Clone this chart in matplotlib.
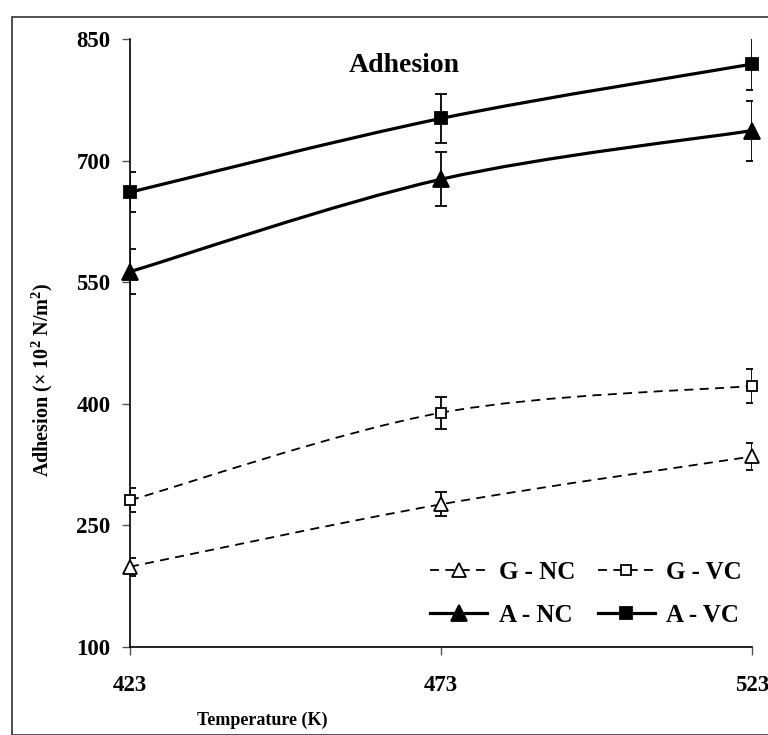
import numpy as np
import matplotlib
matplotlib.use("Agg")
import matplotlib.pyplot as plt
from matplotlib.path import Path
from matplotlib.patches import PathPatch, Rectangle
from matplotlib.lines import Line2D

plt.rcParams['font.family'] = ['Liberation Serif', 'DejaVu Serif']
plt.rcParams['mathtext.fontset'] = 'custom'
plt.rcParams['mathtext.rm'] = 'Liberation Serif:bold'
plt.rcParams['mathtext.bf'] = 'Liberation Serif:bold'

temperature = [423, 473, 523]
g_nc = [199, 276, 335]
g_nc_err = [11, 15, 17]
g_vc = [281, 389, 422]
g_vc_err = [15, 20, 21]
a_nc = [563, 677, 737]
a_nc_err = [28, 33, 37]
a_vc = [661, 752, 819]
a_vc_err = [25, 30, 32]
y_ticks = [100, 250, 400, 550, 700, 850]

fig = plt.figure(figsize=(7.68, 7.35), dpi=100)
ax = fig.add_axes([130/768, 1-647/735, 622/768, 608/735])


def smooth_path(x, y):
    pts = np.column_stack([x, y]).astype(float)
    verts = [pts[0]]
    codes = [Path.MOVETO]
    n = len(pts)
    for i in range(n - 1):
        p0 = pts[i - 1] if i > 0 else pts[i]
        p1 = pts[i]
        p2 = pts[i + 1]
        p3 = pts[i + 2] if i + 2 < n else pts[i + 1]
        c1 = p1 + (p2 - p0) / 6.0
        c2 = p2 - (p3 - p1) / 6.0
        verts += [c1, c2, p2]
        codes += [Path.CURVE4] * 3
    return Path(verts, codes)


series = [
    (g_nc, g_nc_err, '^', 'white', (0, (5, 3.5)), 1.3, 'G - NC'),
    (g_vc, g_vc_err, 's', 'white', (0, (5, 3.5)), 1.3, 'G - VC'),
    (a_nc, a_nc_err, '^', 'black', '-', 2.3, 'A - NC'),
    (a_vc, a_vc_err, 's', 'black', '-', 2.3, 'A - VC'),
]
handles = {}
for vals, errs, mk, fc, ls, lw, lab in series:
    patch = PathPatch(smooth_path(temperature, vals), facecolor='none',
                      edgecolor='black', linestyle=ls, lw=lw, zorder=2)
    ax.add_patch(patch)
    ax.errorbar(temperature, vals, yerr=errs, fmt='none', ecolor='black',
                elinewidth=1.3, capsize=4, capthick=1.3, zorder=3)
    if mk == '^':
        ms = 11 if fc == 'black' else 10.5
    else:
        ms = 8.5 if fc == 'black' else 7.5
    ax.plot(temperature, vals, linestyle='none', marker=mk, markersize=ms,
            markerfacecolor=fc, markeredgecolor='black', markeredgewidth=1.3,
            zorder=4, clip_on=False)
    handles[lab] = Line2D([], [], color='black', linestyle=ls, lw=lw,
                          marker=mk, markersize=ms, markerfacecolor=fc,
                          markeredgecolor='black', markeredgewidth=1.3)

ax.set_xlim(423, 523)
ax.set_ylim(100, 850)
ax.set_xticks(temperature)
ax.set_yticks(y_ticks)
ax.set_xticklabels([str(t) for t in temperature], fontsize=16.5, fontweight='bold')
ax.set_yticklabels([str(t) for t in y_ticks], fontsize=16.5, fontweight='bold')
ax.tick_params(axis='both', direction='out', length=6, width=1, color='#555555')
ax.tick_params(axis='y', pad=8)
ax.tick_params(axis='x', pad=14)
for s in ['top', 'right']:
    ax.spines[s].set_visible(False)
for s in ['left', 'bottom']:
    ax.spines[s].set_linewidth(1.2)

fig.text(42/768, 1-380/735, 'Adhesion (× 10$^{2}$ N/m$^{2}$)', fontsize=14.5,
         fontweight='bold', rotation=90, ha='center', va='center')
fig.text(262/768, 1-720/735, 'Temperature (K)', fontsize=13, fontweight='bold',
         ha='center', va='center')
ax.text(0.441, 0.957, 'Adhesion', transform=ax.transAxes, fontsize=20,
        fontweight='bold', ha='center', va='center')

order = ['G - NC', 'A - NC', 'G - VC', 'A - VC']
leg = ax.legend([handles[k] for k in order], order, ncol=2, frameon=False,
                loc='center', bbox_to_anchor=((586-130)/622, (647-594)/608),
                prop={'family': 'Liberation Serif', 'weight': 'bold', 'size': 18},
                handlelength=2.3, handletextpad=0.45, columnspacing=0.9,
                labelspacing=0.8, borderpad=0)

fig.patches.append(Rectangle((12/768, 0), 1, 1-17/735, transform=fig.transFigure,
                             fill=False, edgecolor='#333333', lw=1.2))

fig.savefig('out.png', dpi=100)
